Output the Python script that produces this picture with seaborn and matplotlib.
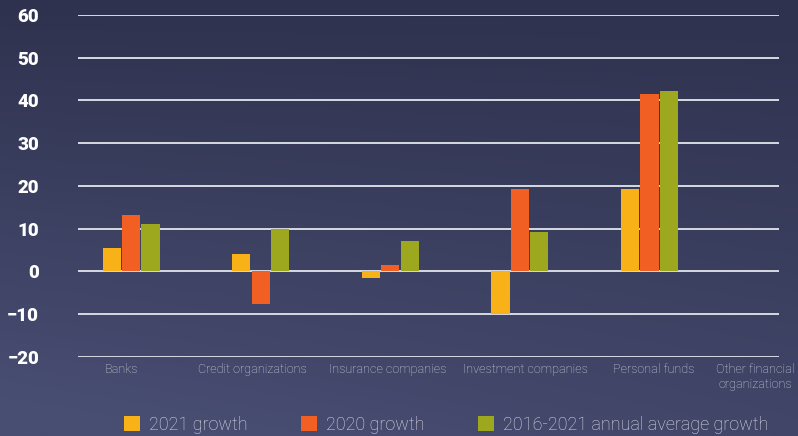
import numpy as np
import pandas as pd
import matplotlib.pyplot as plt
import seaborn as sns
from matplotlib.transforms import ScaledTranslation

categories = ['Banks', 'Credit organizations', 'Insurance companies',
              'Investment companies', 'Personal funds', 'Other financial\norganizations']
series = ['2021 growth', '2020 growth', '2016-2021 annual average growth']
growth_2021 = [5.6, 4.0, -1.6, -10.0, 19.3, np.nan]
growth_2020 = [13.3, -7.5, 1.6, 19.3, 41.5, np.nan]
avg_2016_2021 = [11.0, 10.0, 7.2, 9.3, 42.2, np.nan]
colors = ['#F9B118', '#F15F22', '#9DA81E']

df = pd.DataFrame({
    'category': categories * 3,
    'series': [s for s in series for _ in categories],
    'value': growth_2021 + growth_2020 + avg_2016_2021,
})

sns.set_style('white')
plt.rcParams['font.family'] = ['Roboto', 'DejaVu Sans']

fig = plt.figure(figsize=(7.98, 4.36), dpi=100)

# gradient background
bg = fig.add_axes([0, 0, 1, 1], zorder=-10)
yy, xx = np.mgrid[0:1:200j, 0:1:200j]
t = np.clip(0.75 * yy + 0.35 * (1 - xx) * yy, 0, 1)
top = np.array([47, 50, 78]) / 255
bot = np.array([72, 77, 114]) / 255
img = top[None, None, :] * (1 - t[..., None]) + bot[None, None, :] * t[..., None]
bg.imshow(img, aspect='auto', extent=[0, 1, 0, 1], origin='upper')
bg.axis('off')

ax = fig.add_axes([0.0977, 0.1812, 0.8785, 0.7844])
ax.patch.set_alpha(0)
sns.barplot(data=df, x='category', y='value', hue='series', order=categories,
            hue_order=series, palette=colors, width=0.45, gap=0.06,
            saturation=1, linewidth=0, ax=ax)

ax.set_ylim(-20, 60)
ax.set_yticks(range(-20, 61, 10))
ax.set_xlim(-0.41, 5.0)
ax.yaxis.grid(True, color='#d8dae2', linewidth=1.4)
ax.set_axisbelow(True)
for s in ax.spines.values():
    s.set_visible(False)
ax.set_xlabel('')
ax.set_ylabel('')
ax.tick_params(axis='y', length=0, pad=28, labelsize=13.5, labelcolor='white')
ax.tick_params(axis='x', length=0, pad=4, labelsize=9.1, labelcolor='#d0d2dc')
for lab in ax.get_yticklabels():
    lab.set_fontweight('black')

# small horizontal nudges of the category labels (px)
nudges = [-10, -8, -3, 6, 4, -24]
for lab, dx in zip(ax.get_xticklabels(), nudges):
    lab.set_fontweight('light')
    lab.set_linespacing(1.2)
    lab.set_transform(lab.get_transform() + ScaledTranslation(dx / 100, 0, fig.dpi_scale_trans))

handles, labels = ax.get_legend_handles_labels()
ax.get_legend().remove()
fig.legend(handles, labels, loc='center', bbox_to_anchor=(0.559, 0.025), ncol=3,
           frameon=False, handlelength=0.9, handleheight=0.9, handletextpad=0.5,
           columnspacing=2.95, prop={'size': 13, 'weight': 'light'},
           labelcolor='#d8dae2')

fig.savefig('out.png', dpi=100)
